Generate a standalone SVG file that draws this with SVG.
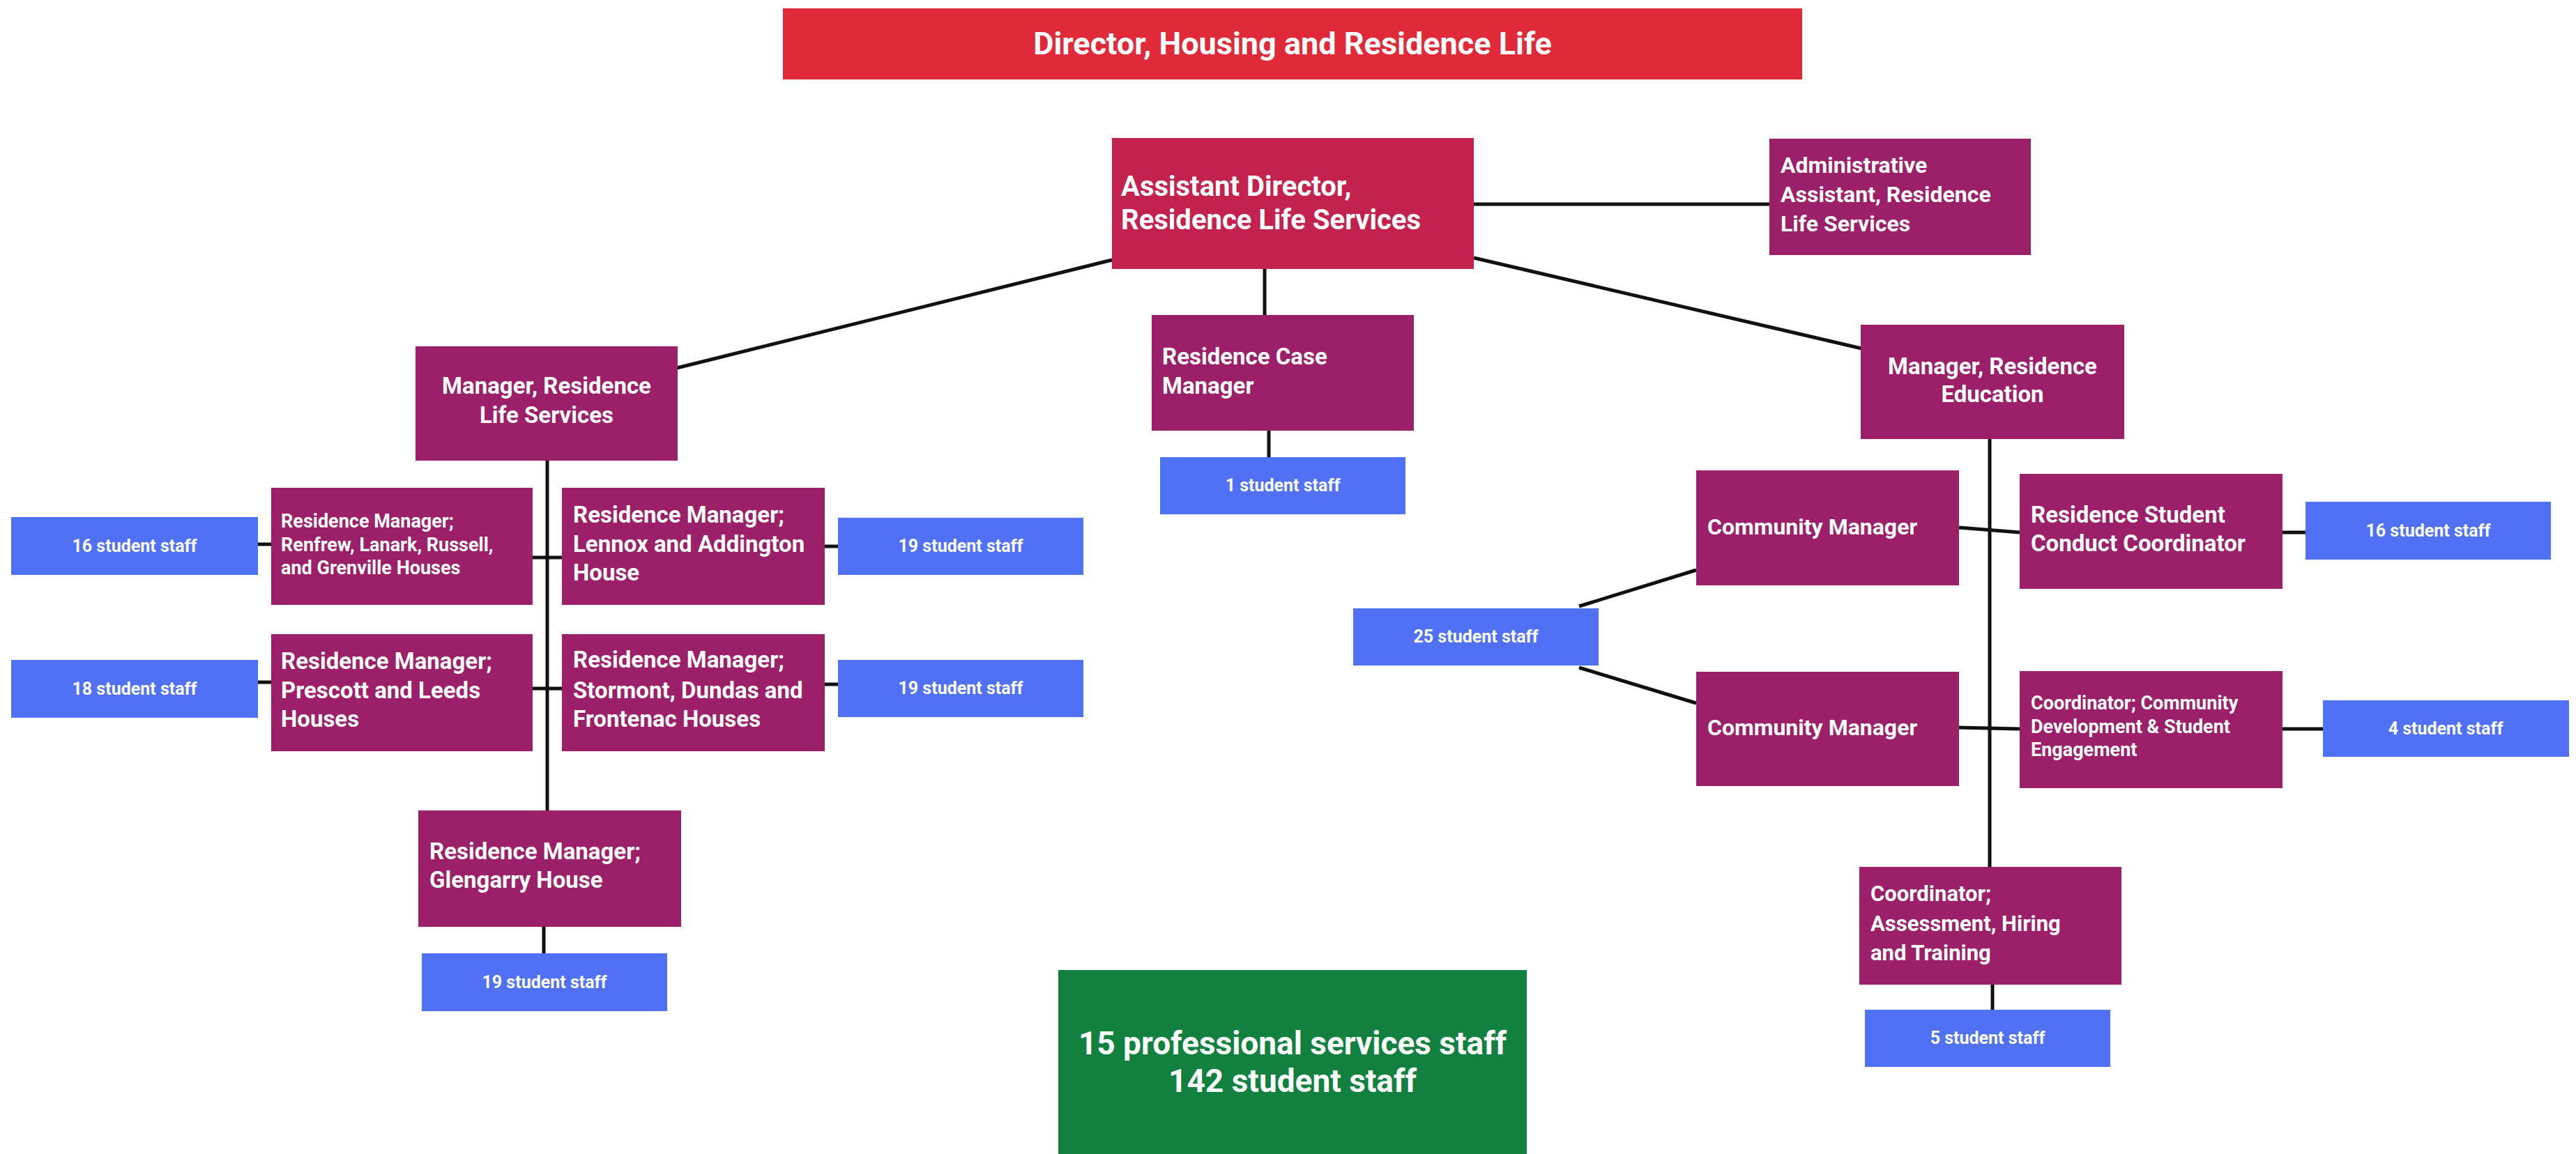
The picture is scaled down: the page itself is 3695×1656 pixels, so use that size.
<svg xmlns="http://www.w3.org/2000/svg" width="3695" height="1656" viewBox="0 0 3695 1656">
<style>
  text { font-family: Roboto, "Liberation Sans", Arial, sans-serif; font-weight: bold; fill: #ffffff; }
  .mag { fill: #9b1f69; }
  .blue { fill: #5070f6; }
  .c { text-anchor: middle; }
  .t33 { font-size: 33px; }
  .t27 { font-size: 27px; }
  .t25 { font-size: 25px; }
  .conn line { stroke: #111111; stroke-width: 5; stroke-linecap: butt; }
</style>
<rect x="0" y="0" width="3695" height="1656" fill="#ffffff"/>

<g class="conn" id="connectors">
  <line x1="2114" y1="293" x2="2538" y2="293"/>
  <line x1="1595" y1="373" x2="971" y2="528"/>
  <line x1="1814" y1="386" x2="1814" y2="452"/>
  <line x1="2114" y1="370" x2="2670" y2="500"/>
  <line x1="1820" y1="618" x2="1820" y2="656"/>
  <line x1="785" y1="661" x2="785" y2="1163"/>
  <line x1="370" y1="781" x2="389" y2="781"/>
  <line x1="764" y1="800" x2="806" y2="800"/>
  <line x1="1183" y1="784" x2="1202" y2="784"/>
  <line x1="370" y1="979" x2="389" y2="979"/>
  <line x1="764" y1="988" x2="806" y2="988"/>
  <line x1="1183" y1="982" x2="1202" y2="982"/>
  <line x1="780" y1="1330" x2="780" y2="1368"/>
  <line x1="2854" y1="630" x2="2854" y2="1244"/>
  <line x1="2810" y1="757" x2="2897" y2="764"/>
  <line x1="3274" y1="764" x2="3307" y2="764"/>
  <line x1="2810" y1="1044" x2="2897" y2="1046"/>
  <line x1="3274" y1="1046" x2="3332" y2="1046"/>
  <line x1="2265" y1="870" x2="2433" y2="818"/>
  <line x1="2265" y1="958" x2="2433" y2="1009"/>
  <line x1="2858" y1="1413" x2="2858" y2="1449"/>
</g>

<g id="director">
  <rect x="1123" y="12" width="1462" height="102" fill="#e02a39"/>
  <text x="1854" y="78" class="c" font-size="45">Director, Housing and Residence Life</text>
</g>

<g id="assistant-director">
  <rect x="1595" y="198" width="519" height="188" fill="#c3224f"/>
  <text x="1608" y="281" font-size="40">Assistant Director,</text>
  <text x="1608" y="329" font-size="40">Residence Life Services</text>
</g>

<g id="admin-assistant">
  <rect x="2538" y="199" width="375" height="167" class="mag"/>
  <text x="2554" y="248" font-size="32">Administrative</text>
  <text x="2554" y="290" font-size="32">Assistant, Residence</text>
  <text x="2554" y="332" font-size="32">Life Services</text>
</g>

<g id="manager-rls">
  <rect x="596" y="497" width="376" height="164" class="mag"/>
  <text x="784" y="565" class="c t33">Manager, Residence</text>
  <text x="784" y="607" class="c t33">Life Services</text>
</g>

<g id="case-manager">
  <rect x="1652" y="452" width="376" height="166" class="mag"/>
  <text x="1667" y="523" class="t33">Residence Case</text>
  <text x="1667" y="565" class="t33">Manager</text>
</g>

<g id="students-case">
  <rect x="1664" y="656" width="352" height="82" class="blue"/>
  <text x="1840" y="705" class="c t25">1 student staff</text>
</g>

<g id="manager-re">
  <rect x="2669" y="466" width="378" height="164" class="mag"/>
  <text x="2858" y="537" class="c t33">Manager, Residence</text>
  <text x="2858" y="577" class="c t33">Education</text>
</g>

<g id="students-renfrew">
  <rect x="16" y="742" width="354" height="83" class="blue"/>
  <text x="193" y="792" class="c t25">16 student staff</text>
</g>

<g id="rm-renfrew">
  <rect x="389" y="700" width="375" height="168" class="mag"/>
  <text x="403" y="757" class="t27">Residence Manager;</text>
  <text x="403" y="791" class="t27">Renfrew, Lanark, Russell,</text>
  <text x="403" y="824" class="t27">and Grenville Houses</text>
</g>

<g id="rm-lennox">
  <rect x="806" y="700" width="377" height="168" class="mag"/>
  <text x="822" y="750" class="t33">Residence Manager;</text>
  <text x="822" y="792" class="t33">Lennox and Addington</text>
  <text x="822" y="833" class="t33">House</text>
</g>

<g id="students-lennox">
  <rect x="1202" y="743" width="352" height="82" class="blue"/>
  <text x="1378" y="792" class="c t25">19 student staff</text>
</g>

<g id="students-prescott">
  <rect x="16" y="947" width="354" height="83" class="blue"/>
  <text x="193" y="997" class="c t25">18 student staff</text>
</g>

<g id="rm-prescott">
  <rect x="389" y="910" width="375" height="168" class="mag"/>
  <text x="403" y="960" class="t33">Residence Manager;</text>
  <text x="403" y="1002" class="t33">Prescott and Leeds</text>
  <text x="403" y="1043" class="t33">Houses</text>
</g>

<g id="rm-stormont">
  <rect x="806" y="910" width="377" height="168" class="mag"/>
  <text x="822" y="958" class="t33">Residence Manager;</text>
  <text x="822" y="1002" class="t33">Stormont, Dundas and</text>
  <text x="822" y="1043" class="t33">Frontenac Houses</text>
</g>

<g id="students-stormont">
  <rect x="1202" y="947" width="352" height="82" class="blue"/>
  <text x="1378" y="996" class="c t25">19 student staff</text>
</g>

<g id="rm-glengarry">
  <rect x="600" y="1163" width="377" height="167" class="mag"/>
  <text x="616" y="1233" class="t33">Residence Manager;</text>
  <text x="616" y="1274" class="t33">Glengarry House</text>
</g>

<g id="students-glengarry">
  <rect x="605" y="1368" width="352" height="83" class="blue"/>
  <text x="781" y="1418" class="c t25">19 student staff</text>
</g>

<g id="community-manager-1">
  <rect x="2433" y="675" width="377" height="165" class="mag"/>
  <text x="2449" y="767" font-size="32">Community Manager</text>
</g>

<g id="community-manager-2">
  <rect x="2433" y="964" width="377" height="164" class="mag"/>
  <text x="2449" y="1055" font-size="32">Community Manager</text>
</g>

<g id="students-community">
  <rect x="1941" y="873" width="352" height="82" class="blue"/>
  <text x="2117" y="922" class="c t25">25 student staff</text>
</g>

<g id="conduct-coordinator">
  <rect x="2897" y="680" width="377" height="165" class="mag"/>
  <text x="2913" y="750" class="t33">Residence Student</text>
  <text x="2913" y="791" class="t33">Conduct Coordinator</text>
</g>

<g id="students-conduct">
  <rect x="3307" y="720" width="352" height="83" class="blue"/>
  <text x="3483" y="770" class="c t25">16 student staff</text>
</g>

<g id="coordinator-cdse">
  <rect x="2897" y="963" width="377" height="168" class="mag"/>
  <text x="2913" y="1018" class="t27">Coordinator; Community</text>
  <text x="2913" y="1052" class="t27">Development &amp; Student</text>
  <text x="2913" y="1085" class="t27">Engagement</text>
</g>

<g id="students-cdse">
  <rect x="3332" y="1005" width="353" height="81" class="blue"/>
  <text x="3508" y="1054" class="c t25">4 student staff</text>
</g>

<g id="coordinator-aht">
  <rect x="2667" y="1244" width="376" height="169" class="mag"/>
  <text x="2683" y="1293" font-size="31">Coordinator;</text>
  <text x="2683" y="1336" font-size="31">Assessment, Hiring</text>
  <text x="2683" y="1378" font-size="31">and Training</text>
</g>

<g id="students-aht">
  <rect x="2675" y="1449" width="352" height="82" class="blue"/>
  <text x="2851" y="1498" class="c t25">5 student staff</text>
</g>

<g id="totals">
  <rect x="1518" y="1392" width="672" height="264" fill="#12803f"/>
  <text x="1854" y="1513" class="c" font-size="46">15 professional services staff</text>
  <text x="1854" y="1567" class="c" font-size="46">142 student staff</text>
</g>
</svg>
